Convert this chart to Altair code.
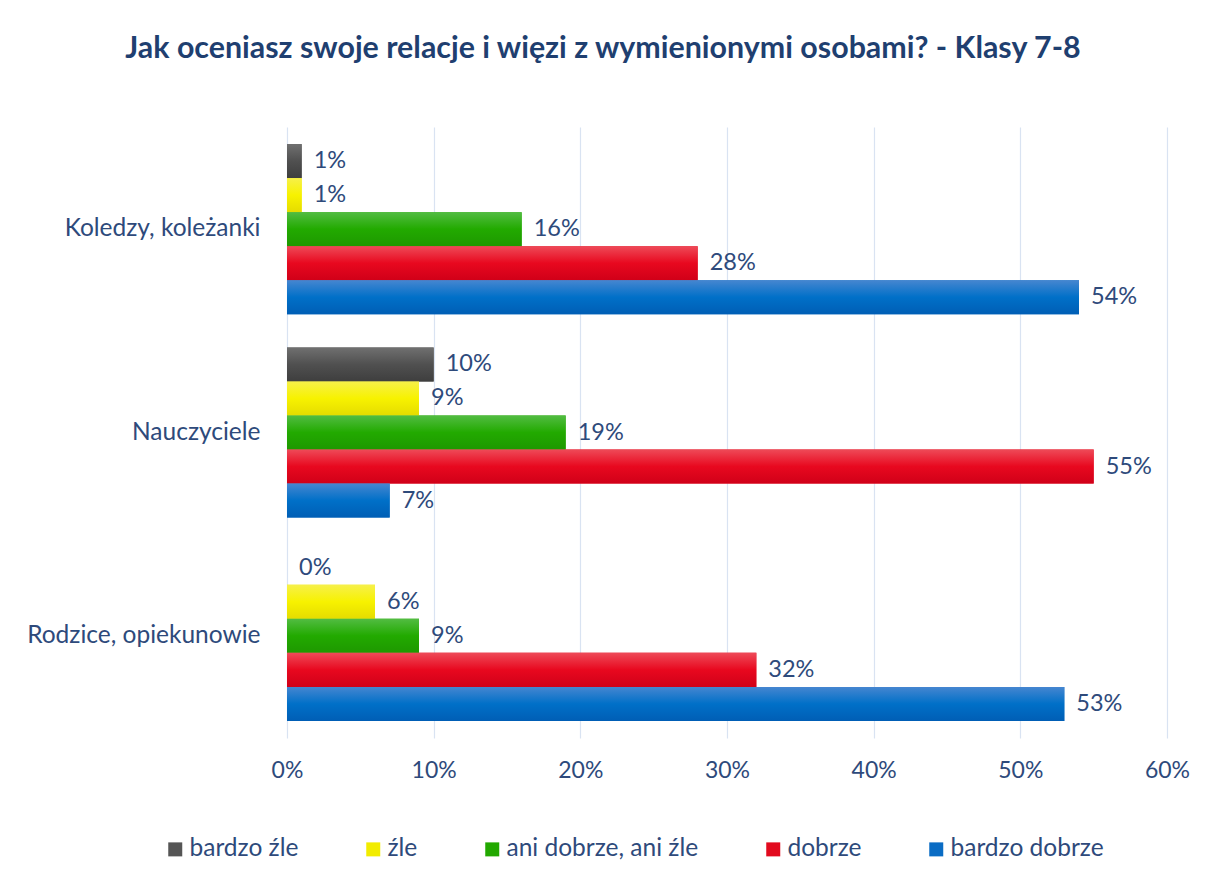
import altair as alt
import pandas as pd

categories = ["Koledzy, koleżanki", "Nauczyciele", "Rodzice, opiekunowie"]
series = ["bardzo źle", "źle", "ani dobrze, ani źle", "dobrze", "bardzo dobrze"]

bardzo_zle = [1, 10, 0]
zle = [1, 9, 6]
ani_dobrze_ani_zle = [16, 19, 9]
dobrze = [28, 55, 32]
bardzo_dobrze = [54, 7, 53]

colors = ["#555555", "#F2EC00", "#22A800", "#E20A1E", "#0A6CC4"]
grad_top = ["#707070", "#F6F04A", "#52BC42", "#EE4A58", "#4686D0"]
grad_mid = ["#505050", "#F7F200", "#22AA00", "#E8081F", "#0070C8"]
grad_bot = ["#3E3E3E", "#E5DC00", "#1E9800", "#D00018", "#005EB5"]

rows = []
for s, vals in zip(series, [bardzo_zle, zle, ani_dobrze_ani_zle, dobrze, bardzo_dobrze]):
    for c, v in zip(categories, vals):
        rows.append({"kategoria": c, "odpowiedz": s, "wartosc": v, "etykieta": f"{v}%"})
df = pd.DataFrame(rows)

TEXT = "#2E4A7B"
GRID = "#D9E3F2"
FONT = "Lato"

x = alt.X(
    "wartosc:Q",
    scale=alt.Scale(domain=[0, 60]),
    axis=alt.Axis(
        values=list(range(0, 61, 10)),
        labelExpr="datum.value + '%'",
        title=None,
        grid=True,
        gridColor=GRID,
        gridWidth=1.2,
        ticks=False,
        domain=False,
        labelFlush=False,
        labelFontSize=23,
        labelColor=TEXT,
        labelPadding=21,
        labelFont=FONT,
    ),
)
y = alt.Y(
    "kategoria:N",
    sort=categories,
    scale=alt.Scale(domain=categories, paddingInner=0.163, paddingOuter=0.084),
    axis=alt.Axis(
        title=None,
        ticks=False,
        domain=False,
        labelFontSize=24.5,
        labelPadding=27,
        labelColor=TEXT,
        labelFont=FONT,
        labelLimit=400,
    ),
)
yoff = alt.YOffset(
    "odpowiedz:N",
    sort=series,
    scale=alt.Scale(domain=series, paddingInner=0, paddingOuter=0),
)

base = alt.Chart(df).mark_bar().encode(
    x=x,
    y=y,
    yOffset=yoff,
    color=alt.Color(
        "odpowiedz:N",
        sort=series,
        scale=alt.Scale(domain=series, range=colors),
        legend=alt.Legend(
            orient="none",
            legendX=-124,
            legendY=710,
            direction="horizontal",
            title=None,
            symbolType="square",
            symbolSize=196,
            symbolStrokeWidth=0,
            labelFontSize=24.5,
            labelColor=TEXT,
            labelFont=FONT,
            labelOffset=2,
            columnPadding=62,
            labelLimit=400,
        ),
    ),
)

layers = [base]
for i, s in enumerate(series):
    grad = alt.Gradient(
        gradient="linear",
        stops=[
            alt.GradientStop(color=grad_top[i], offset=0),
            alt.GradientStop(color=grad_mid[i], offset=0.5),
            alt.GradientStop(color=grad_bot[i], offset=1),
        ],
        x1=0, x2=0, y1=0, y2=1,
    )
    layers.append(
        alt.Chart(df)
        .transform_filter(alt.datum.odpowiedz == s)
        .mark_bar(color=grad)
        .encode(x=x, y=y, yOffset=yoff)
    )

labels = alt.Chart(df).mark_text(
    align="left", baseline="middle", dx=12, fontSize=23.5, color=TEXT, font=FONT
).encode(x=x, y=y, yOffset=yoff, text="etykieta:N")
layers.append(labels)

chart = (
    alt.layer(*layers)
    .properties(
        width=880,
        height=611,
        autosize=alt.AutoSizeParams(type="none"),
        padding={"left": 279, "top": 119, "right": 31, "bottom": 137},
        title=alt.TitleParams(
            text="Jak oceniasz swoje relacje i więzi z wymienionymi osobami? - Klasy 7-8",
            font=FONT,
            fontSize=30.4,
            fontWeight="bold",
            color="#1F3F70",
            anchor="middle",
            frame="group",
            dx=-124,
            baseline="alphabetic",
            offset=39,
        ),
    )
    .configure(font=FONT)
    .configure_view(stroke=None)
)

chart.save("out.html", embed_options={"renderer": "svg", "actions": False})
